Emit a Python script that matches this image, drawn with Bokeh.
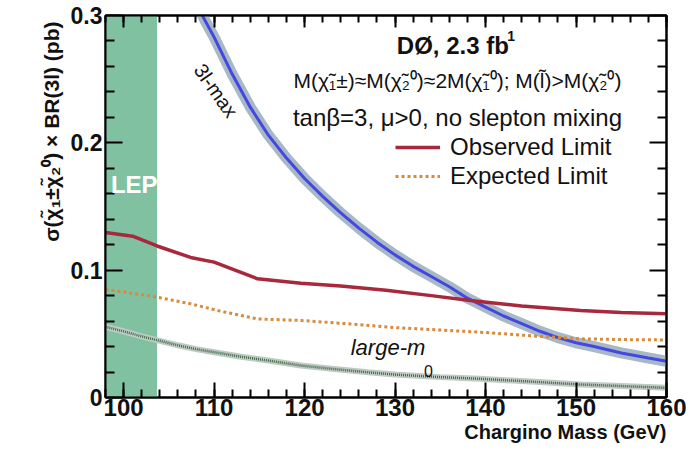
from bokeh.plotting import figure
from bokeh.models import (Range1d, LinearAxis, SingleIntervalTicker, FixedTicker, CustomJSTickFormatter,
                          Label, Legend, LegendItem, Title)
from bokeh.embed import file_html
from bokeh.resources import INLINE

# ---------------- data ----------------
x_limits = [98, 160]
y_limits = [0.0, 0.3]
y_major = [0.0, 0.1, 0.2, 0.3]
y_minor = [0.02, 0.04, 0.06, 0.08, 0.12, 0.14, 0.16, 0.18, 0.22, 0.24, 0.26, 0.28]
lep_left = [98.0]
lep_right = [103.7]

mass_obs = [98, 101, 103.7, 107.4, 110, 114.8, 119.6, 124, 129, 134, 138.3, 144, 150.5, 155, 160]
sigma_obs = [0.1295, 0.1267, 0.119, 0.110, 0.1063, 0.0932, 0.0898, 0.0875, 0.0843, 0.080,
             0.0762, 0.0718, 0.0683, 0.0668, 0.0657]

mass_exp = [98, 100, 103.7, 107.4, 110.4, 114.8, 119.6, 125, 130, 135, 139.4, 145, 150.5, 155, 160]
sigma_exp = [0.0847, 0.083, 0.0788, 0.0736, 0.0683, 0.0617, 0.0605, 0.0578, 0.0549, 0.053,
             0.0513, 0.0485, 0.0461, 0.0455, 0.0452]

mass_3lmax = [108, 109, 110, 112, 114, 116, 118, 120, 122, 124, 126, 128, 130, 132, 134, 136,
              138, 140, 142, 144, 146, 148, 150, 152, 155, 158, 160]
sigma_3lmax = [0.31, 0.296, 0.283, 0.254, 0.228, 0.206, 0.188, 0.172, 0.158, 0.145, 0.133,
               0.122, 0.112, 0.103, 0.095, 0.087, 0.078, 0.071, 0.064, 0.058, 0.052, 0.047,
               0.043, 0.040, 0.035, 0.031, 0.0285]

mass_m0 = [98, 100, 102, 104, 106, 108, 110, 113, 116, 119.6, 123, 127, 130, 135, 139.4, 145,
           150.5, 155, 160]
sigma_m0 = [0.0555, 0.052, 0.048, 0.0445, 0.041, 0.038, 0.0356, 0.032, 0.029, 0.0251, 0.0225,
            0.0198, 0.018, 0.016, 0.0147, 0.0125, 0.0102, 0.009, 0.0076]

FONT = "Liberation Sans"
INK = "#111111"

p = figure(width=696, height=451, output_backend="svg", toolbar_location=None, title=None,
           x_range=Range1d(*x_limits), y_range=Range1d(*y_limits),
           min_border_left=105, min_border_right=30, min_border_top=15, min_border_bottom=54)
p.xgrid.visible = False
p.ygrid.visible = False
p.outline_line_color = "black"
p.outline_line_width = 2

# LEP excluded band
p.quad(left=lep_left, right=lep_right, bottom=[y_limits[0]], top=[y_limits[1]],
       fill_color="#80c1a2", line_color=None)

# large-m0 curve with its band
p.line(mass_m0, sigma_m0, line_color="#c0cbc4", line_width=6)
p.line(mass_m0, sigma_m0, line_color="#3f6a4c", line_width=2.5, line_dash="1 1")

# 3l-max curve with its band
p.line(mass_3lmax, sigma_3lmax, line_color="#a7b9c6", line_width=11)
p.line(mass_3lmax, sigma_3lmax, line_color="#4646e0", line_width=3)

# limits
r_exp = p.line(mass_exp, sigma_exp, line_color="#d98a3a", line_width=3, line_dash="3 3")
r_obs = p.line(mass_obs, sigma_obs, line_color="#a8283c", line_width=3.5)

# ---------------- axes ----------------
xt = SingleIntervalTicker(interval=10, num_minor_ticks=5)
yt = FixedTicker(ticks=y_major, minor_ticks=y_minor)
fmt = CustomJSTickFormatter(code="return tick < 1e-9 ? '0' : tick.toFixed(1);")
blank = CustomJSTickFormatter(code="return '';")

def style_axis(ax, major, minor):
    ax.axis_line_width = 2
    ax.major_tick_in = major
    ax.major_tick_out = 0
    ax.minor_tick_in = minor
    ax.minor_tick_out = 0
    ax.major_tick_line_width = 2
    ax.minor_tick_line_width = 2

xa = p.xaxis[0]
xa.ticker = xt
style_axis(xa, 15, 8)
xa.major_label_text_font = FONT
xa.major_label_text_font_style = "bold"
xa.major_label_text_font_size = "24px"
xa.major_label_text_color = INK
xa.major_label_standoff = 1

ya = p.yaxis[0]
ya.ticker = yt
ya.formatter = fmt
style_axis(ya, 17, 9)
ya.major_label_text_font = FONT
ya.major_label_text_font_style = "bold"
ya.major_label_text_font_size = "23px"
ya.major_label_text_color = INK
ya.major_label_standoff = 3

xtop = LinearAxis(ticker=xt, formatter=blank, major_label_text_font_size="2px",
                  major_label_standoff=0)
style_axis(xtop, 12, 7)
p.add_layout(xtop, "above")
yright = LinearAxis(ticker=yt, formatter=blank, major_label_text_font_size="2px",
                    major_label_standoff=0)
style_axis(yright, 17, 9)
p.add_layout(yright, "right")

p.add_layout(Title(text="Chargino Mass (GeV)", align="right", text_font=FONT, text_color=INK,
                   text_font_style="bold", text_font_size="20px", standoff=0), "below")
p.add_layout(Title(text="σ(χ̃₁±χ̃₂⁰) × BR(3l) (pb)", align="right", text_font=FONT,
                   text_color=INK, text_font_style="bold", text_font_size="21px", offset=6), "left")

# ---------------- annotations ----------------
def lab(x, y, text, size, style="normal", align="left", color=INK, angle=0):
    p.add_layout(Label(x=x, y=y, text=text, text_font=FONT, text_font_size=size,
                       text_font_style=style, text_align=align, text_baseline="middle",
                       text_color=color, angle=angle, angle_units="deg"))

lab(130.2, 0.2765, "DØ, 2.3 fb", "24px", "bold")
lab(142.4, 0.2836, "1", "14px", "bold")
lab(136.9, 0.249, "M(χ̃₁±)≈M(χ̃₂⁰)≈2M(χ̃₁⁰); M(l̃)>M(χ̃₂⁰)", "21px", align="center")
lab(136.9, 0.220, "tanβ=3, μ>0, no slepton mixing", "24px", align="center")
lab(110.2, 0.241, "3l-max", "20px", align="center", angle=-55)
lab(125.1, 0.0393, "large-m", "22px", "italic")
lab(133.2, 0.0212, "0", "16px")
lab(98.6, 0.167, "LEP", "24px", "bold", color="white")

legend = Legend(items=[LegendItem(label="Observed Limit", renderers=[r_obs]),
                       LegendItem(label="Expected Limit", renderers=[r_exp])],
                location=(290, 207), padding=0, margin=0, spacing=1,
                glyph_width=45, glyph_height=24, label_height=24, label_standoff=10,
                label_text_font=FONT, label_text_font_size="24px", label_text_color=INK,
                background_fill_alpha=0, border_line_color=None)
p.add_layout(legend)

open("out.html", "w").write(file_html(p, INLINE))
